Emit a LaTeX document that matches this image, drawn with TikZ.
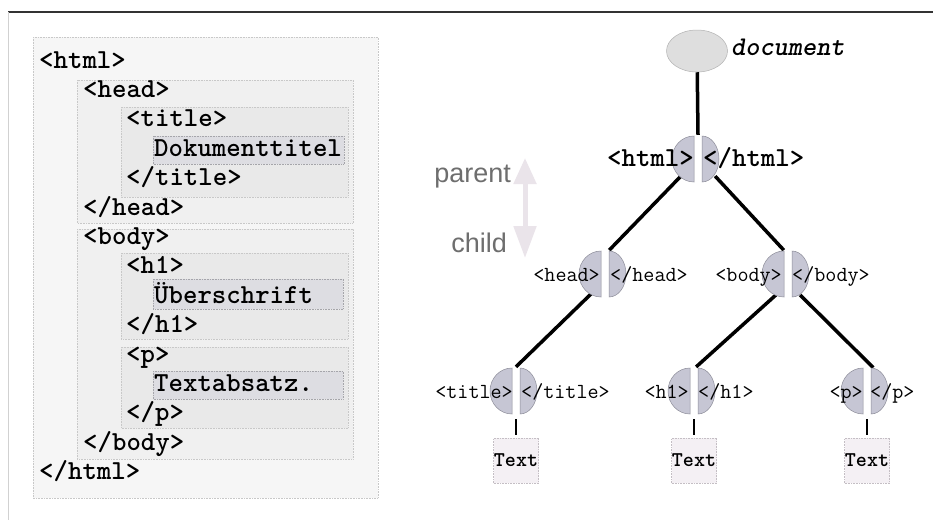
\documentclass[tikz,border=0pt]{standalone}
\usepackage{fontspec}
\setsansfont{Liberation Sans}
\usetikzlibrary{calc,arrows.meta,shapes.geometric}

\definecolor{boxA}{RGB}{246,246,246}
\definecolor{boxB}{RGB}{240,240,240}
\definecolor{boxC}{RGB}{233,233,233}
\definecolor{boxD}{RGB}{221,221,226}
\definecolor{lineA}{RGB}{200,200,200}
\definecolor{lineD}{RGB}{165,165,170}
\definecolor{discfill}{RGB}{198,198,212}
\definecolor{discline}{RGB}{140,140,152}
\definecolor{docfill}{RGB}{222,222,222}
\definecolor{leaffill}{RGB}{244,240,244}
\definecolor{leafline}{RGB}{196,190,196}
\definecolor{hintfill}{RGB}{234,228,234}
\definecolor{hinttext}{RGB}{110,110,110}

\tikzset{
  codeline/.style={anchor=base west, inner sep=0pt,
    font=\fontsize{27.5}{27.5}\selectfont\ttfamily\bfseries},
  nest/.style={densely dotted, line width=0.6pt},
  tagc/.style={circle, minimum size=48, inner sep=0pt, draw=none},
  tagbig/.style={inner sep=0pt, font=\fontsize{27.5}{27.5}\selectfont\ttfamily\bfseries},
  tagsmall/.style={inner sep=0pt, font=\fontsize{21.5}{21.5}\selectfont\ttfamily},
  edge/.style={line width=3.5pt, black},
  stub/.style={line width=2.6pt, black, shorten <=4pt, shorten >=3pt},
  halfdisc/.style={fill=discfill, draw=discline, line width=0.5pt},
  leafbox/.style={rectangle, minimum width=45, minimum height=45, inner sep=0pt,
    fill=leaffill, draw=leafline, densely dotted, line width=0.6pt,
    font=\fontsize{21}{21}\selectfont\ttfamily\bfseries},
  hintword/.style={anchor=base east, inner sep=0pt, text=hinttext,
    font=\fontsize{27}{27}\selectfont\sffamily},
}

% two separated half discs around the centre of a tag node
\newcommand\tagdiscs[1]{%
  \filldraw[halfdisc] ($(#1)+(-4,23)$) arc[start angle=90, end angle=270, x radius=22, y radius=23] -- cycle;
  \filldraw[halfdisc] ($(#1)+(4,-23)$) arc[start angle=270, end angle=450, x radius=17, y radius=23] -- cycle;}

\begin{document}
\begin{tikzpicture}[x=1pt, y=-1pt]
\useasboundingbox (0,0) rectangle (933,520);
\fill[white] (0,0) rectangle (933,520);

% frame rules
\draw[line width=1.4pt, black!80] (8,12) -- (933,12);
\draw[line width=0.8pt, black!18] (8,12) -- (8,520);

% ---------- source listing ----------
\filldraw[boxA, draw=lineA, nest] (33,37) rectangle (378,498);
\filldraw[boxB, draw=lineA, nest] (77,80) rectangle (353,223);
\filldraw[boxC, draw=lineA, nest] (121,107) rectangle (348,197);
\filldraw[boxD, draw=lineD, nest] (153,136) rectangle (344,164);
\filldraw[boxB, draw=lineA, nest] (77,229) rectangle (353,459);
\filldraw[boxC, draw=lineA, nest] (121,253) rectangle (348,339);
\filldraw[boxD, draw=lineD, nest] (153,279) rectangle (343,309);
\filldraw[boxC, draw=lineA, nest] (121,347) rectangle (348,428);
\filldraw[boxD, draw=lineD, nest] (153,371) rectangle (343,399);

\node[codeline] (c01) at (39,68.0)  {<html>};
\node[codeline] (c02) at (83,97.4)  {<head>};
\node[codeline] (c03) at (126,126.8) {<title>};
\node[codeline] (c04) at (154,156.2) {Dokumenttitel};
\node[codeline] (c05) at (126,185.6) {</title>};
\node[codeline] (c06) at (83,215.0) {</head>};
\node[codeline] (c07) at (83,244.4) {<body>};
\node[codeline] (c08) at (126,273.8) {<h1>};
\node[codeline] (c09) at (154,303.2) {Überschrift};
\node[codeline] (c10) at (126,332.6) {</h1>};
\node[codeline] (c11) at (126,362.0) {<p>};
\node[codeline] (c12) at (154,391.4) {Textabsatz.};
\node[codeline] (c13) at (126,420.8) {</p>};
\node[codeline] (c14) at (83,450.2) {</body>};
\node[codeline] (c15) at (39,479.6) {</html>};

% ---------- parent / child hint ----------
\node[hintword] (parent) at (511,182) {parent};
\node[hintword] (child) at (507,252) {child};
\coordinate (hintup) at (525,158);
\coordinate (hintdn) at (525,258);
\draw[hintfill, line width=5pt,
  {Triangle[width=22pt,length=26pt]}-{Triangle[width=22pt,length=32pt]}]
  (hintup) -- (hintdn);

% ---------- tree ----------
\node[ellipse, minimum width=61, minimum height=42, inner sep=0pt,
  fill=docfill, draw=black!30, line width=0.5pt] (doc) at (697,51) {};
\node[anchor=base west, inner sep=0pt,
  font=\fontsize{27}{27}\selectfont\ttfamily\bfseries\itshape] (doclbl) at (731,55) {document};

\node[tagc] (html)  at (698,159) {};
\node[tagc] (head)  at (605,274) {};
\node[tagc] (body)  at (788,274) {};
\node[tagc] (title) at (516,391) {};
\node[tagc] (h1)    at (694,391) {};
\node[tagc] (p)     at (867,391) {};

\node[leafbox] (t1) at (516,460.5) {Text};
\node[leafbox] (t2) at (694,460.5) {Text};
\node[leafbox] (t3) at (867,460.5) {Text};

\draw[edge] (doc) -- (html.north);
\draw[edge] (html.-135) -- (head.80);
\draw[edge] (html.-45) -- (body.100);
\draw[edge] (head.-125) -- (title.90);
\draw[edge] (body.-120) -- (h1.85);
\draw[edge] (body.-60) -- (p.75);
\draw[stub] (title.south) -- (t1.north);
\draw[stub] (h1.south) -- (t2.north);
\draw[stub] (p.south) -- (t3.north);

\tagdiscs{html}
\tagdiscs{head}
\tagdiscs{body}
\tagdiscs{title}
\tagdiscs{h1}
\tagdiscs{p}

\node[tagbig, anchor=base east] (html-o) at ($(html)+(-4,7)$) {<html>};
\node[tagbig, anchor=base west] (html-c) at ($(html)+(5,7)$) {</html>};
\node[tagsmall, anchor=base east] (head-o) at ($(head)+(-5,7)$) {<head>};
\node[tagsmall, anchor=base west] (head-c) at ($(head)+(5,7)$) {</head>};
\node[tagsmall, anchor=base east] (body-o) at ($(body)+(-6,7)$) {<body>};
\node[tagsmall, anchor=base west] (body-c) at ($(body)+(4,7)$) {</body>};
\node[tagsmall, anchor=base east] (title-o) at ($(title)+(-3,7)$) {<title>};
\node[tagsmall, anchor=base west] (title-c) at ($(title)+(5,7)$) {</title>};
\node[tagsmall, anchor=base east] (h1-o) at ($(h1)+(-5,7)$) {<h1>};
\node[tagsmall, anchor=base west] (h1-c) at ($(h1)+(4,7)$) {</h1>};
\node[tagsmall, anchor=base east] (p-o) at ($(p)+(-4,7)$) {<p>};
\node[tagsmall, anchor=base west] (p-c) at ($(p)+(3,7)$) {</p>};
\end{tikzpicture}
\end{document}
